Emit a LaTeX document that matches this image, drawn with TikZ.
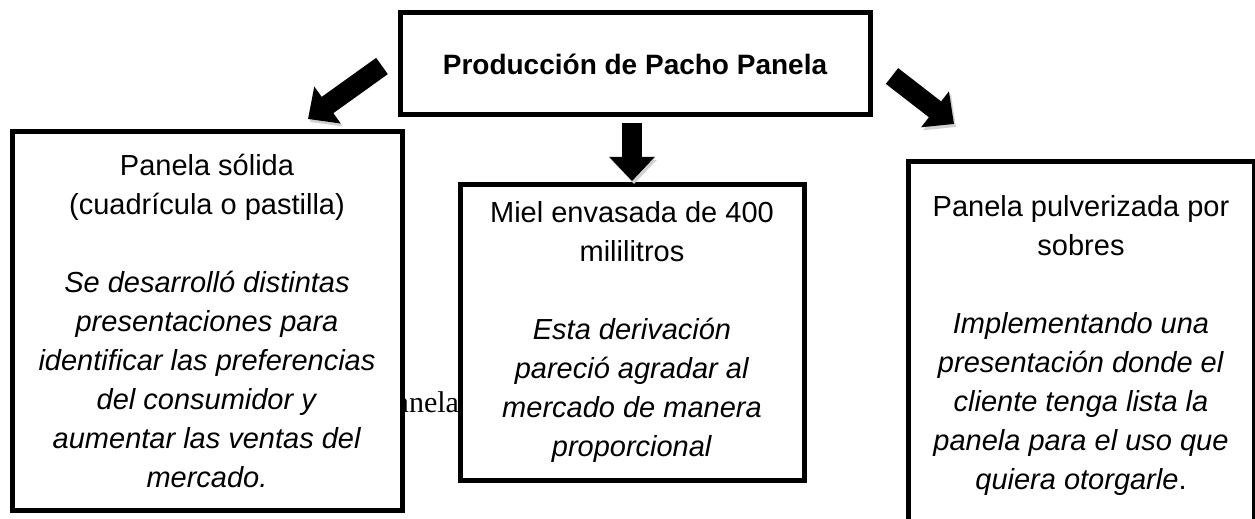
\documentclass[tikz,border=0pt]{standalone}
\usepackage{fontspec}
\setmainfont{Liberation Sans}
\newfontfamily\panelaserif{Liberation Serif}
\usetikzlibrary{arrows.meta}

\tikzset{
	caja/.style={draw, line width=2.5pt, fill=white, align=center, inner sep=0pt,
		font=\fontsize{14.5}{19.5}\selectfont},
	flecha/.style={line width=10pt, -{Triangle[length=12pt,width=22pt]},
		preaction={draw, black!18, transform canvas={shift={(1pt,-1.5pt)}}}},
}

\begin{document}
\begin{tikzpicture}[x=0.5pt, y=-0.5pt]
		%%Start of figure
			\useasboundingbox (0, 0) rectangle (1255, 519);
			\clip (0, 0) rectangle (1255, 519);
			
			\node[anchor=base west, font=\panelaserif\fontsize{15}{18}\selectfont] (resto) at (372, 412){Panela};
			
			%boxes%
			\node[caja, minimum width=235pt, minimum height=51pt, font=\bfseries\fontsize{14}{17}\selectfont] (prod) at (635, 64){Producción de Pacho Panela};
			\node[caja, minimum width=195pt, minimum height=189pt] (solida) at (207, 321){Panela sólida\\
				(cuadrícula o pastilla)\\[19.5pt]
				\textit{Se desarrolló distintas}\\
				\textit{presentaciones para}\\
				\textit{identificar las preferencias}\\
				\textit{del consumidor y}\\
				\textit{aumentar las ventas del}\\
				\textit{mercado.}};
			\node[caja, minimum width=172pt, minimum height=147.5pt] (miel) at (632, 332.5){Miel envasada de 400\\
				mililitros\\[19.5pt]
				\textit{Esta derivación}\\
				\textit{pareció agradar al}\\
				\textit{mercado de manera}\\
				\textit{proporcional}};
			\node[caja, minimum width=173pt, minimum height=183.5pt] (polvo) at (1081, 345.5){Panela pulverizada por\\
				sobres\\[19.5pt]
				\textit{Implementando una}\\
				\textit{presentación donde el}\\
				\textit{cliente tenga lista la}\\
				\textit{panela para el uso que}\\
				\textit{quiera otorgarle}.};
			
			%arrows%
			\coordinate (izq0) at (382, 66);
			\coordinate (izq1) at (308, 119);
			\coordinate (cen0) at (632, 123);
			\coordinate (cen1) at (632, 181);
			\coordinate (der0) at (892, 76);
			\coordinate (der1) at (954, 124);
			\draw[flecha](izq0) to (izq1);
			\draw[flecha](cen0) to (cen1);
			\draw[flecha](der0) to (der1);
		\end{tikzpicture}
\end{document}
